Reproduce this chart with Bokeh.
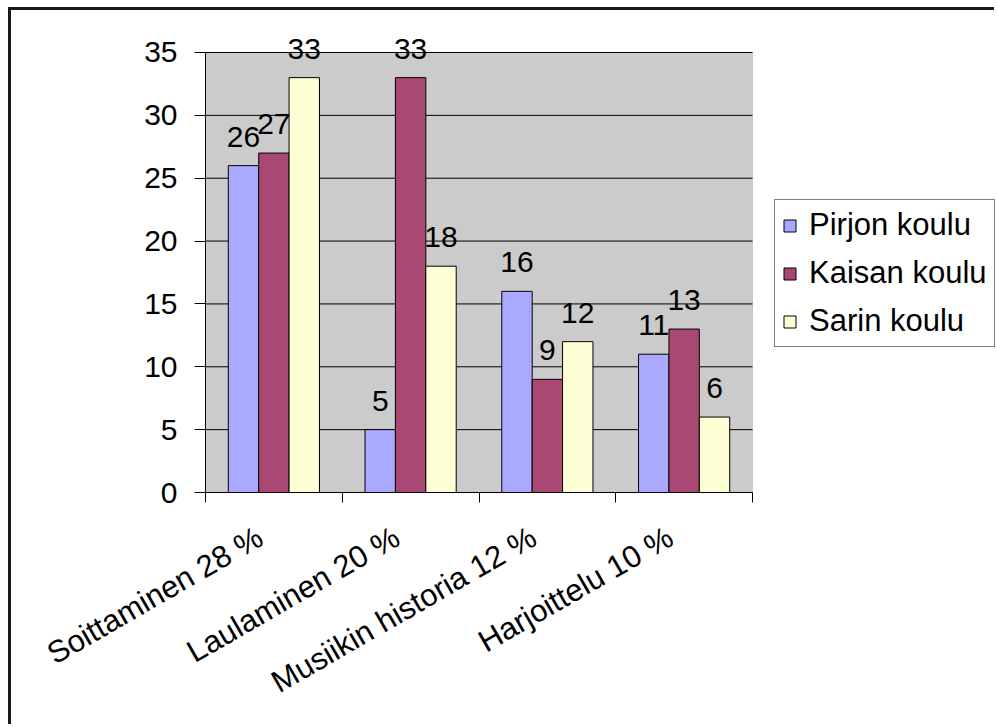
import math

from bokeh.core.properties import value
from bokeh.embed import file_html
from bokeh.models import (BoxAnnotation, ColumnDataSource, FixedTicker, LabelSet,
                          Legend, LegendItem, Range1d)
from bokeh.plotting import figure
from bokeh.resources import INLINE

# --- data -----------------------------------------------------------------
categories = ["Soittaminen 28 %", "Laulaminen 20 %",
              "Musiikin historia 12 %", "Harjoittelu 10 %"]
series_names = ["Pirjon koulu", "Kaisan koulu", "Sarin koulu"]
pirjon = [26, 5, 16, 11]
kaisan = [27, 33, 9, 13]
sarin = [33, 18, 12, 6]
y_ticks = [0, 5, 10, 15, 20, 25, 30, 35]

# --- style ----------------------------------------------------------------
FONT = "Liberation Sans"
FS = "30px"
colors = ["#A9A9FF", "#A94873", "#FFFFD6"]
BAR = 1 / 4.5          # bar width in category units (gap = 150 %)
N = len(categories)
Y_TOP = 35             # top of the shaded plot area
Y_HEADROOM = 37.545    # extra room above it for the value labels
X_ROOM = 5.7915        # extra room right of the plot area for the legend
LABEL_SHIFT = 0.1      # category labels sit a little left of the centre

W, H = 986, 717
p = figure(width=W, height=H, x_range=Range1d(0, X_ROOM),
           y_range=Range1d(0, Y_HEADROOM), output_backend="svg",
           toolbar_location=None,
           min_border_left=194, min_border_right=0,
           min_border_top=10, min_border_bottom=235)
p.background_fill_color = "white"
p.border_fill_color = "white"
p.outline_line_color = None
p.margin = (7, 0, 0, 8)
p.styles = {"border-top": "3px solid #1a1a1a", "border-left": "3px solid #1a1a1a"}

# shaded plot area
p.add_layout(BoxAnnotation(left=0, right=N, bottom=0, top=Y_TOP,
                           fill_color="#CBCBCB", fill_alpha=1,
                           line_color="#808080", line_width=1,
                           level="underlay"))

# horizontal grid lines across the plot area only
p.xgrid.visible = False
p.ygrid.visible = False
p.segment(x0=[0] * len(y_ticks), x1=[N] * len(y_ticks), y0=y_ticks, y1=y_ticks,
          line_color="black", line_width=1)

# y axis
ya = p.yaxis[0]
ya.ticker = FixedTicker(ticks=y_ticks)
ya.bounds = (0, Y_TOP)
ya.axis_line_color = "black"
ya.major_tick_line_color = "black"
ya.major_tick_out = 11
ya.major_tick_in = 0
ya.minor_tick_line_color = None
ya.major_label_text_font = FONT
ya.major_label_text_font_size = FS
ya.major_label_text_color = "black"
ya.major_label_standoff = 17

# x axis: ticks on the category boundaries, labels near the centres
xa = p.xaxis[0]
centres = [i + 0.5 for i in range(N)]
label_pos = [c - LABEL_SHIFT for c in centres]
xa.ticker = FixedTicker(ticks=label_pos, minor_ticks=list(range(N + 1)))
xa.bounds = (0, N)
xa.major_label_overrides = {c: lab for c, lab in zip(label_pos, categories)}
xa.axis_line_color = "black"
xa.major_tick_line_color = None
xa.minor_tick_line_color = "black"
xa.minor_tick_out = 10
xa.minor_tick_in = 0
xa.major_label_orientation = math.pi / 6
xa.major_label_text_font = FONT
xa.major_label_text_font_size = "31px"
xa.major_label_text_color = "black"
xa.major_label_standoff = 32

# bars and value labels
items = []
for k, (name, vals, col) in enumerate(zip(series_names, [pirjon, kaisan, sarin], colors)):
    xs = [c + (k - 1) * BAR for c in centres]
    src = ColumnDataSource(dict(x=xs, top=vals, label=[str(v) for v in vals]))
    r = p.vbar(x="x", top="top", bottom=0, width=BAR, source=src,
               fill_color=col, line_color="black", line_width=1)
    p.add_layout(LabelSet(x="x", y="top", text="label", source=src,
                          text_align="center", text_baseline="alphabetic",
                          y_offset=19, text_font=value(FONT),
                          text_font_size=FS, text_color="black"))
    items.append(LegendItem(label=name, renderers=[r]))

legend = Legend(items=items, location=(569, 145), orientation="vertical",
                label_text_font=FONT, label_text_font_size="31px",
                label_text_color="black", glyph_width=15, glyph_height=15,
                label_standoff=12, padding=7, spacing=12, margin=0,
                border_line_color="black", border_line_width=1,
                background_fill_color="white", background_fill_alpha=1)
p.add_layout(legend)

open("out.html", "w").write(file_html(p, INLINE))
